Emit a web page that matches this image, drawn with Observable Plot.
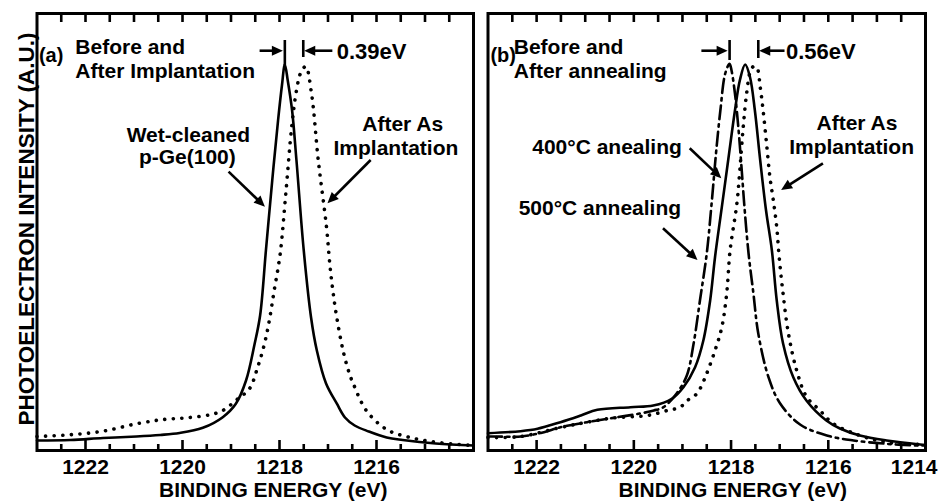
<!DOCTYPE html>
<html><head><meta charset="utf-8">
<script src="https://cdn.jsdelivr.net/npm/d3@7"></script>
<script src="https://cdn.jsdelivr.net/npm/@observablehq/plot@0.6"></script>
<style>
html,body{margin:0;padding:0;background:#fff;}
#chart{position:relative;width:939px;height:501px;overflow:hidden;background:#fff;}
#chart svg{position:absolute;top:0;}
</style></head><body><div id="chart"></div>
<script>
// ---------- data: [binding energy (eV), intensity (a.u.)] ----------
const wetCleanedA = [[1223.00,2.29],[1222.31,2.40],[1221.64,2.86],[1220.95,3.20],[1220.46,3.55],[1220.06,4.00],[1219.58,5.19],[1219.17,7.62],[1218.90,10.69],[1218.69,16.02],[1218.52,24.03],[1218.40,30.89],[1218.28,45.77],[1218.15,61.78],[1218.03,75.51],[1217.95,83.52],[1217.89,88.33],[1217.83,84.67],[1217.74,77.80],[1217.65,66.36],[1217.50,45.77],[1217.35,30.50],[1217.23,22.88],[1217.04,15.33],[1216.82,10.76],[1216.65,7.55],[1216.45,5.72],[1216.16,4.35],[1215.79,2.97],[1215.46,2.40],[1214.78,1.60],[1214.00,1.14]];
const afterImplantA = [[1223.00,3.20],[1222.33,3.59],[1221.64,4.42],[1220.95,6.11],[1220.40,7.09],[1219.92,7.48],[1219.44,8.17],[1219.17,9.15],[1218.86,11.83],[1218.62,14.12],[1218.45,19.06],[1218.31,24.42],[1218.21,29.75],[1218.11,36.61],[1217.99,44.62],[1217.87,58.81],[1217.75,73.91],[1217.65,82.38],[1217.56,86.50],[1217.46,87.87],[1217.34,81.69],[1217.20,66.36],[1217.03,51.03],[1216.96,42.33],[1216.90,36.61],[1216.82,30.50],[1216.69,22.88],[1216.56,17.62],[1216.48,15.33],[1216.21,9.15],[1215.79,4.81],[1215.33,3.04],[1214.78,1.90],[1214.00,1.14]];
const anneal400B = [[1223.00,3.96],[1222.33,4.42],[1221.98,4.97],[1221.51,6.48],[1221.09,8.01],[1220.75,9.31],[1220.07,9.91],[1219.60,10.30],[1219.22,11.83],[1218.98,14.49],[1218.74,19.06],[1218.57,25.17],[1218.43,34.32],[1218.33,44.23],[1218.19,55.68],[1218.06,66.36],[1217.92,77.80],[1217.82,84.67],[1217.71,88.33],[1217.61,85.42],[1217.51,77.80],[1217.40,66.36],[1217.28,54.92],[1217.16,45.77],[1217.06,34.32],[1216.93,24.49],[1216.72,16.77],[1216.45,11.44],[1216.04,6.86],[1215.76,5.03],[1215.35,3.43],[1214.80,2.29],[1214.11,1.37],[1214.00,1.26]];
const anneal500B = [[1223.00,3.20],[1222.80,3.20],[1222.32,3.20],[1221.85,4.19],[1221.51,5.33],[1220.96,6.48],[1220.41,7.48],[1219.87,8.47],[1219.59,9.15],[1219.39,9.91],[1219.12,13.04],[1218.91,17.16],[1218.77,24.49],[1218.64,34.32],[1218.50,45.08],[1218.40,56.52],[1218.31,67.96],[1218.22,77.80],[1218.12,86.27],[1218.03,88.49],[1217.99,86.96],[1217.92,81.69],[1217.85,73.91],[1217.78,64.07],[1217.73,56.52],[1217.64,45.08],[1217.54,35.93],[1217.44,26.77],[1217.23,16.77],[1216.99,10.76],[1216.58,5.95],[1216.03,3.43],[1215.48,2.29],[1214.80,1.53],[1214.12,1.14],[1214.00,1.14]];
const afterImplantB = [[1223.00,2.97],[1222.33,3.20],[1221.51,5.26],[1220.96,6.48],[1220.41,7.48],[1219.72,8.01],[1219.31,9.15],[1219.05,9.91],[1218.90,11.44],[1218.70,13.04],[1218.56,16.02],[1218.50,17.62],[1218.33,22.88],[1218.19,28.22],[1218.09,35.93],[1218.02,45.77],[1217.88,56.52],[1217.82,64.07],[1217.75,73.98],[1217.68,81.69],[1217.61,86.50],[1217.54,87.87],[1217.47,87.64],[1217.40,83.14],[1217.34,77.80],[1217.27,70.25],[1217.20,62.54],[1217.13,57.21],[1217.06,51.10],[1217.01,44.23],[1216.93,35.93],[1216.82,26.77],[1216.65,18.31],[1216.45,12.36],[1216.17,9.15],[1215.90,6.18],[1215.35,3.43],[1214.80,1.90],[1214.12,1.37],[1214.00,1.26]];

// ---------- axes ----------
const tickLabelsA = [1222, 1220, 1218, 1216];
const tickLabelsB = [1222, 1220, 1218, 1216];
const edgeTickLabelB = [1214];
const majorTicks = [1222, 1220, 1218, 1216, 1214];
const minorTicks = [1222.5, 1221.5, 1221, 1220.5, 1219.5, 1219, 1218.5, 1217.5, 1217, 1216.5, 1215.5, 1215, 1214.5];
const xTitle = "BINDING ENERGY (eV)";
const yTitle = "PHOTOELECTRON INTENSITY (A.U.)";

// ---------- annotations (data coordinates) ----------
const panelTagA = [{x: 1222.96, y: 88.8, text: "(a)"}];
const labelsStartA = [
  {x: 1222.21, y: 90.62, text: "Before and"},
  {x: 1222.21, y: 85.13, text: "After Implantation"}
];
const labelsMiddleA = [
  {x: 1219.88, y: 70.7, text: "Wet-cleaned"},
  {x: 1219.90, y: 65.45, text: "p-Ge(100)"},
  {x: 1215.46, y: 73.0, text: "After As"},
  {x: 1215.60, y: 67.73, text: "Implantation"}
];
const shiftLabelA = [{x: 1216.82, y: 89.7, text: "0.39eV"}];
const barsA = [{x: 1217.89, y1: 88.1, y2: 93.82}, {x: 1217.51, y1: 89.93, y2: 93.82}];
const arrowsA = [
  {x1: 1218.40, y1: 91.37, x2: 1217.92, y2: 91.37},
  {x1: 1216.90, y1: 91.37, x2: 1217.48, y2: 91.37},
  {x1: 1219.04, y1: 63.69, x2: 1218.29, y2: 55.68},
  {x1: 1216.11, y1: 66.36, x2: 1217.00, y2: 56.45}
];

const panelTagB = [{x: 1222.95, y: 88.8, text: "(b)"}];
const labelsStartB = [
  {x: 1222.47, y: 90.62, text: "Before and"},
  {x: 1222.47, y: 85.13, text: "After annealing"},
  {x: 1222.09, y: 67.96, text: "400°C anealing"},
  {x: 1222.37, y: 53.78, text: "500°C annealing"}
];
const labelsMiddleB = [
  {x: 1215.41, y: 73.23, text: "After As"},
  {x: 1215.52, y: 67.96, text: "Implantation"}
];
const shiftLabelB = [{x: 1216.87, y: 89.7, text: "0.56eV"}];
const barsB = [{x: 1218.03, y1: 89.24, y2: 93.82}, {x: 1217.44, y1: 89.70, y2: 93.82}];
const arrowsB = [
  {x1: 1218.60, y1: 91.37, x2: 1218.06, y2: 91.37},
  {x1: 1216.89, y1: 91.37, x2: 1217.41, y2: 91.37},
  {x1: 1216.10, y1: 65.6, x2: 1216.96, y2: 59.5},
  {x1: 1218.84, y1: 69.04, x2: 1218.19, y2: 62.17},
  {x1: 1219.39, y1: 50.73, x2: 1218.68, y2: 43.48}
];

const FONT = "'Liberation Sans', Arial, Helvetica, sans-serif";
const FH = 437; // frame height in px (501 - 13 - 51)

function arrowsMark(arrows, headLength = 11, headWidth = 10) {
  return (index, scales) => {
    const g = d3.create("svg:g");
    for (const a of arrows) {
      const x1 = scales.x(a.x1), y1 = scales.y(a.y1), x2 = scales.x(a.x2), y2 = scales.y(a.y2);
      const dx = x2 - x1, dy = y2 - y1, len = Math.hypot(dx, dy), ux = dx / len, uy = dy / len;
      const bx = x2 - ux * headLength, by = y2 - uy * headLength;
      g.append("line").attr("x1", x1).attr("y1", y1).attr("x2", bx + ux).attr("y2", by + uy)
        .attr("stroke", "black").attr("stroke-width", 2.6);
      g.append("path")
        .attr("d", `M${x2},${y2}L${bx - uy * headWidth / 2},${by + ux * headWidth / 2}L${bx + uy * headWidth / 2},${by - ux * headWidth / 2}Z`)
        .attr("fill", "black");
    }
    return g.node();
  };
}

function panel(o) {
  const marks = [
    Plot.frame({stroke: "black", strokeWidth: 3}),
    Plot.ruleX(majorTicks, {x: d => d, insetTop: FH - 10, stroke: "black", strokeWidth: 2.6}),
    Plot.ruleX(minorTicks, {x: d => d, insetTop: FH - 6, stroke: "black", strokeWidth: 2.6}),
    Plot.ruleX(majorTicks.concat(minorTicks), {x: d => d, insetBottom: FH - 9, stroke: "black", strokeWidth: 2.6}),
    Plot.text(o.tickLabels, {x: d => d, text: d => String(d), frameAnchor: "bottom", dy: 23, lineAnchor: "bottom", fontSize: 21, fontWeight: "bold", fill: "black"}),
    Plot.text([xTitle], {text: d => d, frameAnchor: "bottom", dx: o.titleDx, dy: 46.5, lineAnchor: "bottom", fontSize: 21, fontWeight: "bold", fill: "black", style: "letter-spacing:1px"}),
    ...o.curves,
    Plot.ruleX(o.bars, {x: "x", y1: "y1", y2: "y2", stroke: "black", strokeWidth: 2.6}),
    arrowsMark(o.arrows),
    Plot.text(o.tag, {x: "x", y: "y", text: "text", textAnchor: "start", lineAnchor: "bottom", fontSize: 20, fontWeight: "bold", fill: "black", style: "letter-spacing:-0.5px"}),
    Plot.text(o.labelsStart, {x: "x", y: "y", text: "text", textAnchor: "start", lineAnchor: "bottom", fontSize: 21, fontWeight: "bold", fill: "black"}),
    Plot.text(o.labelsMiddle, {x: "x", y: "y", text: "text", textAnchor: "middle", lineAnchor: "bottom", fontSize: 21, fontWeight: "bold", fill: "black"}),
    Plot.text(o.shift, {x: "x", y: "y", text: "text", textAnchor: "start", lineAnchor: "bottom", fontSize: 22, fontWeight: "bold", fill: "black", style: "letter-spacing:1px"})
  ];
  if (o.extra) marks.push(...o.extra);
  return Plot.plot({
    width: o.width, height: 501,
    marginLeft: o.marginLeft, marginRight: o.marginRight, marginTop: 13, marginBottom: 51,
    x: {domain: [1223, 1214], axis: null},
    y: {domain: [0, 100], axis: null},
    style: {fontFamily: FONT, background: "white", color: "black"},
    marks
  });
}

const solid = (data) => Plot.line(data, {x: d => d[0], y: d => d[1], stroke: "black", strokeWidth: 2.6, curve: "catmull-rom"});
const dotted = (data) => Plot.line(data, {x: d => d[0], y: d => d[1], stroke: "black", strokeWidth: 3.6, strokeDasharray: "0.1 8.5", strokeLinecap: "round", curve: "catmull-rom"});
const dashdot = (data) => Plot.line(data, {x: d => d[0], y: d => d[1], stroke: "black", strokeWidth: 2.6, strokeDasharray: "14 5 2.5 5", curve: "catmull-rom"});

const svgA = panel({
  width: 480, marginLeft: 36.5, marginRight: 7, titleDx: 18,
  tickLabels: tickLabelsA,
  curves: [solid(wetCleanedA), dotted(afterImplantA)],
  bars: barsA, arrows: arrowsA, tag: panelTagA,
  labelsStart: labelsStartA, labelsMiddle: labelsMiddleA, shift: shiftLabelA,
  extra: [Plot.text([yTitle], {text: d => d, frameAnchor: "left", rotate: -90, dx: -3.5, dy: -3, textAnchor: "middle", lineAnchor: "bottom", fontSize: 22.5, fontWeight: "bold", fill: "black"})]
});
const svgB = panel({
  width: 459, marginLeft: 7.5, marginRight: 14, titleDx: 26,
  tickLabels: tickLabelsB,
  curves: [solid(anneal400B), dotted(afterImplantB), dashdot(anneal500B)],
  bars: barsB, arrows: arrowsB, tag: panelTagB,
  labelsStart: labelsStartB, labelsMiddle: labelsMiddleB, shift: shiftLabelB,
  extra: [Plot.text(edgeTickLabelB, {x: d => d, text: d => String(d), frameAnchor: "bottom", dx: 12, dy: 23, textAnchor: "end", lineAnchor: "bottom", fontSize: 21, fontWeight: "bold", fill: "black"})]
});
svgA.style.left = "0px";
svgB.style.left = "480px";
const chart = document.getElementById("chart");
chart.appendChild(svgA);
chart.appendChild(svgB);
</script></body></html>
